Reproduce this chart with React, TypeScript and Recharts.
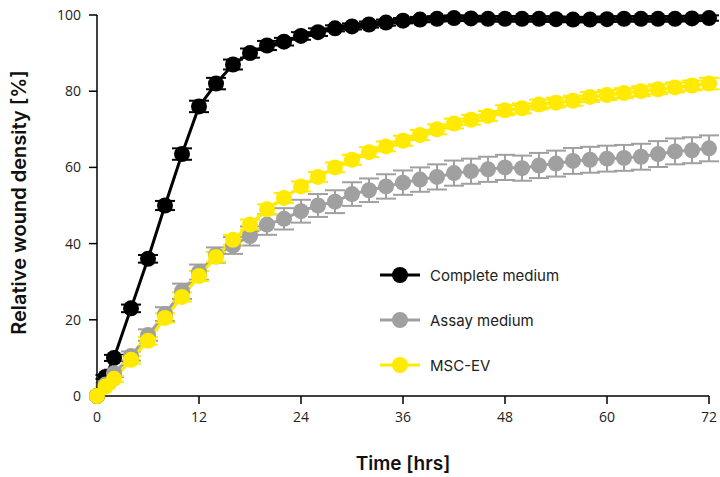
import { LineChart, Line, XAxis, YAxis, ErrorBar, Label } from 'recharts'

// sampling times in hours
const TIMES = [0, 1, 2, 4, 6, 8, 10, 12, 14, 16, 18, 20, 22, 24, 26, 28, 30, 32, 34, 36, 38, 40, 42, 44, 46, 48, 50, 52, 54, 56, 58, 60, 62, 64, 66, 68, 70, 72]

const COMPLETE = [0, 5, 10, 23, 36, 50, 63.5, 76, 82, 87, 90, 92, 93, 94.5, 95.5, 96.5, 97, 97.5, 98, 98.5, 98.8, 99, 99.2, 99.1, 99, 99, 99, 99, 98.9, 98.8, 98.8, 98.9, 99, 99, 99, 99, 99.1, 99.2]
const COMPLETE_ERR = [0, 0.5, 0.8, 1, 1, 1.2, 1.5, 1.5, 1.5, 1.3, 1.2, 1.2, 1, 1, 1, 0.8, 0.8, 0.8, 0.8, 0.7, 0.7, 0.7, 0.7, 0.7, 0.7, 0.7, 0.7, 0.7, 0.7, 0.7, 0.7, 0.7, 0.7, 0.7, 0.7, 0.7, 0.7, 0.7]

const ASSAY = [0, 3, 6, 10.5, 16, 21.5, 27.5, 32.5, 37, 39.5, 42, 45, 46.5, 48.5, 50, 51, 53, 54, 55, 56, 56.8, 57.5, 58.5, 59, 59.5, 60, 59.8, 60.5, 61, 61.7, 62, 62.3, 62.5, 62.8, 63.5, 64.2, 64.5, 65]
const ASSAY_ERR = [0, 0.5, 1, 1.2, 1.5, 1.8, 2, 2, 2, 2.2, 2.5, 2.7, 2.8, 3, 3, 3, 3.1, 3.1, 3.2, 3.2, 3.2, 3.3, 3.3, 3.3, 3.3, 3.3, 3.3, 3.3, 3.4, 3.4, 3.4, 3.4, 3.4, 3.4, 3.4, 3.4, 3.4, 3.4]

const MSC = [0, 2.5, 4.5, 9.5, 14.5, 20.5, 26, 31.5, 36.5, 41, 45, 49, 52, 55, 57.5, 60, 62, 64, 65.5, 67, 68.5, 70, 71.5, 72.5, 73.5, 75, 75.5, 76.5, 77, 77.5, 78.5, 79, 79.5, 80, 80.5, 81, 81.5, 82]
const MSC_ERR = [0, 0.5, 0.8, 1, 1, 1.2, 1.2, 1.3, 1.3, 1.3, 1.3, 1.3, 1.3, 1.3, 1.3, 1.3, 1.3, 1.3, 1.3, 1.3, 1.3, 1.3, 1.3, 1.3, 1.3, 1.3, 1.3, 1.3, 1.3, 1.3, 1.3, 1.3, 1.3, 1.3, 1.3, 1.3, 1.3, 1.5]

const X_TICKS = [0, 12, 24, 36, 48, 60, 72]
const Y_TICKS = [0, 20, 40, 60, 80, 100]

const SERIES = [
  { key: 'complete', name: 'Complete medium', color: '#000000' },
  { key: 'assay', name: 'Assay medium', color: '#a0a0a0' },
  { key: 'msc', name: 'MSC-EV', color: '#ffea00' },
]

const data = TIMES.map((t, i) => ({
  t,
  complete: COMPLETE[i],
  completeErr: COMPLETE_ERR[i],
  assay: ASSAY[i],
  assayErr: ASSAY_ERR[i],
  msc: MSC[i],
  mscErr: MSC_ERR[i],
}))

const TICK_FONT = "'Open Sans', sans-serif"
const TITLE_FONT = "Inter, 'Noto Sans', sans-serif"

function YTitle(props: any) {
  const vb = props.viewBox || { x: 0, y: 0, height: 0 }
  const x = vb.x + 19
  const y = vb.y + vb.height / 2 - 3
  return (
    <text
      x={x}
      y={y}
      transform={`rotate(-90, ${x}, ${y})`}
      textAnchor="middle"
      dominantBaseline="central"
      fontFamily={TITLE_FONT}
      fontSize={20}
      fontWeight={600}
      fill="#111"
    >
      Relative wound density [%]
    </text>
  )
}

function LegendBox() {
  return (
    <div style={{ position: 'absolute', left: 378, top: 262, fontFamily: TITLE_FONT, fontSize: 15, color: '#222' }}>
      {SERIES.map((s) => (
        <div key={s.key} style={{ display: 'flex', alignItems: 'center', height: 26, marginBottom: 19 }}>
          <svg width={44} height={20}>
            <line x1={2} x2={42} y1={10} y2={10} stroke={s.color} strokeWidth={3} />
            <circle cx={22} cy={10} r={8} fill={s.color} />
          </svg>
          <span style={{ marginLeft: 8 }}>{s.name}</span>
        </div>
      ))}
    </div>
  )
}

export default function App() {
  return (
    <div style={{ position: 'absolute', left: 0, top: 0, width: 720, height: 477, background: '#fff' }}>
      <LineChart width={720} height={477} data={data} margin={{ top: 15, right: 11, left: 0, bottom: 0 }}>
        <XAxis
          dataKey="t"
          type="number"
          domain={[0, 72]}
          ticks={X_TICKS}
          height={81}
          tickSize={8}
          tickMargin={8}
          stroke="#000"
          strokeWidth={1.5}
          tick={{ fill: '#222', fontSize: 14, fontFamily: TICK_FONT }}
        >
          <Label
            value="Time [hrs]"
            position="insideBottom"
            offset={7}
            style={{ fontFamily: TITLE_FONT, fontSize: 19, fontWeight: 600, fill: '#111' }}
          />
        </XAxis>
        <YAxis
          type="number"
          domain={[0, 100]}
          ticks={Y_TICKS}
          width={97}
          tickSize={8}
          tickMargin={8}
          stroke="#000"
          strokeWidth={1.5}
          tick={{ fill: '#222', fontSize: 14, fontFamily: TICK_FONT }}
        >
          <Label content={<YTitle />} />
        </YAxis>
        {SERIES.map((s) => (
          <Line
            key={s.key}
            dataKey={s.key}
            name={s.name}
            stroke={s.color}
            strokeWidth={3}
            dot={{ r: 8, fill: s.color, stroke: s.color, strokeWidth: 0 }}
            activeDot={false}
            isAnimationActive={false}
          >
            <ErrorBar dataKey={`${s.key}Err`} direction="y" width={10} strokeWidth={2} stroke={s.color} />
          </Line>
        ))}
      </LineChart>
      <LegendBox />
    </div>
  )
}
